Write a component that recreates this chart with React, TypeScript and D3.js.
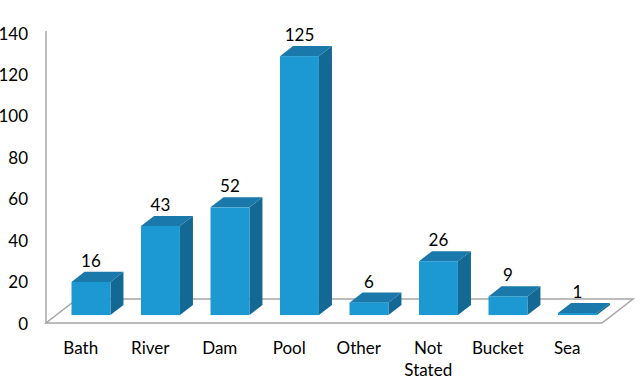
import React from "react";
import * as d3 from "d3";

const categories: string[] = ["Bath", "River", "Dam", "Pool", "Other", "Not Stated", "Bucket", "Sea"];
const values: number[] = [16, 43, 52, 125, 6, 26, 9, 1];
const yTicks: number[] = [0, 20, 40, 60, 80, 100, 120, 140];

const W = 640;
const H = 378;
const FRONT = "#1C98D2";
const TOP = "#1A78AA";
const SIDE = "#136894";
const AXIS = "#A6A6A6";
const FONT = "Lato, 'Open Sans', sans-serif";
const FS = 17;

export default function App() {
  const x0 = 46, x1 = 602, yBase = 323, yTop = 33;
  const floorD = { dx: 31, dy: -24 };
  const fFront = 0.33, fBack = 0.75;
  const dF = { dx: floorD.dx * fFront, dy: floorD.dy * fFront };
  const dB = { dx: floorD.dx * fBack, dy: floorD.dy * fBack };

  const x = d3.scaleBand<string>().domain(categories).range([x0, x1]).paddingInner(0.44).paddingOuter(0.22);
  const y = d3.scaleLinear().domain([0, 140]).range([yBase, yTop]);

  const pts = (arr: number[][]) => arr.map((p) => p.join(",")).join(" ");

  return (
    <svg width={W} height={H} style={{ position: "absolute", left: 0, top: 0, background: "#fff" }} fontFamily={FONT}>
      {/* floor */}
      <polygon
        points={pts([[x0, yBase], [x1, yBase], [x1 + floorD.dx, yBase + floorD.dy], [x0 + floorD.dx, yBase + floorD.dy]])}
        fill="none" stroke={AXIS} strokeWidth={1.5}
      />
      {/* y axis */}
      <line x1={x0} x2={x0} y1={yTop - 2} y2={yBase} stroke={AXIS} strokeWidth={1.5} />
      {yTicks.map((t) => (
        <text key={t} x={28} y={y(t)} textAnchor="end" dominantBaseline="central" fontSize={FS} fill="#000">{t}</text>
      ))}
      {/* bars */}
      {categories.map((c, i) => {
        const v = values[i];
        const h = y(0) - y(v);
        const bx = (x(c) as number) + dF.dx;
        const by = yBase + dF.dy;
        const bw = x.bandwidth();
        const ddx = dB.dx - dF.dx, ddy = dB.dy - dF.dy;
        const topY = by - h;
        return (
          <g key={c}>
            <polygon points={pts([[bx + bw, by], [bx + bw + ddx, by + ddy], [bx + bw + ddx, topY + ddy], [bx + bw, topY]])} fill={SIDE} />
            <polygon points={pts([[bx, topY], [bx + bw, topY], [bx + bw + ddx, topY + ddy], [bx + ddx, topY + ddy]])} fill={TOP} />
            <rect x={bx} y={topY} width={bw} height={h} fill={FRONT} />
            <text x={bx + bw / 2} y={topY + ddy - 5} textAnchor="middle" fontSize={FS} fill="#000">{v}</text>
          </g>
        );
      })}
      {/* category labels */}
      {categories.map((c) => {
        const words = c.split(" ");
        const center = (x(c) as number) + x.bandwidth() / 2;
        return (
          <text key={c} x={center} y={354} textAnchor="middle" fontSize={FS} fill="#000">
            {words.map((w, j) => (
              <tspan key={j} x={center} dy={j === 0 ? 0 : 22}>{w}</tspan>
            ))}
          </text>
        );
      })}
    </svg>
  );
}
